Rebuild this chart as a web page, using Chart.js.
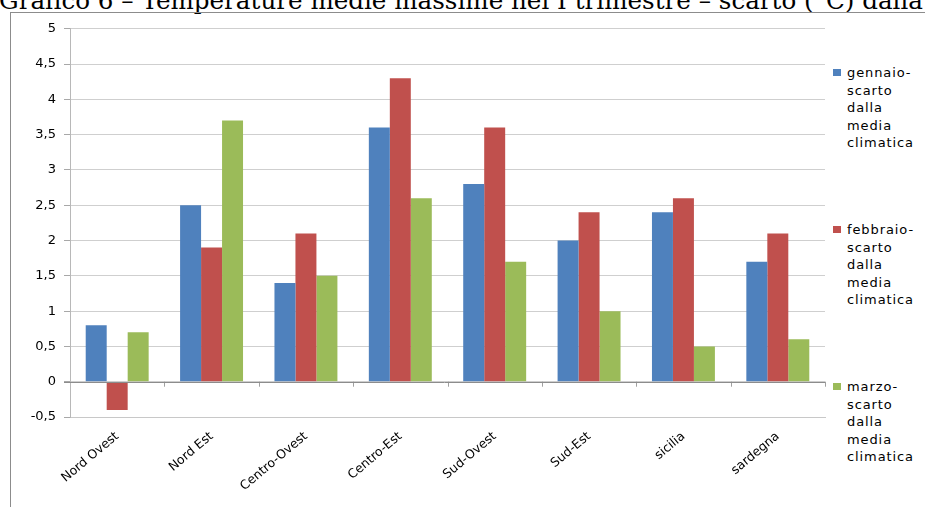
<!DOCTYPE html>
<html>
<head>
<meta charset="utf-8">
<script src="https://cdn.jsdelivr.net/npm/chart.js@4/dist/chart.umd.min.js"></script>
<style>
  body { margin: 0; background: #fff; width: 925px; height: 507px; overflow: hidden; position: relative; }
  #title { position: absolute; left: -1px; top: -11px; font-family: "DejaVu Serif", serif; font-size: 24.6px; line-height: 24px; white-space: nowrap; color: #000; }
  #frame { position: absolute; left: 10px; top: 12px; width: 925px; height: 510px; border-left: 1px solid #8c8c8c; border-top: 1px solid #8c8c8c; }
  #wrap { position: absolute; left: 11px; top: 13px; width: 820px; height: 494px; }
  #legend { position: absolute; left: 833px; top: 0; font-family: "DejaVu Sans", sans-serif; font-size: 13px; line-height: 17.5px; letter-spacing: 0.9px; color: #000; }
  .item { position: absolute; left: 0; width: 92px; }
  .sw { position: absolute; left: 0; top: 5px; width: 8px; height: 7px; }
  .txt { position: absolute; left: 14px; top: 0; white-space: pre; }
</style>
</head>
<body>
<div id="title">Grafico 6 – Temperature medie massime nel I trimestre – scarto (°C) dalla media climatica</div>
<div id="frame"></div>
<div id="wrap"><canvas id="myChart"></canvas></div>
<div id="legend"></div>
<script>
const categories = ['Nord Ovest', 'Nord Est', 'Centro-Ovest', 'Centro-Est', 'Sud-Ovest', 'Sud-Est', 'sicilia', 'sardegna']
const gennaio = [0.8, 2.5, 1.4, 3.6, 2.8, 2.0, 2.4, 1.7]
const febbraio = [-0.4, 1.9, 2.1, 4.3, 3.6, 2.4, 2.6, 2.1]
const marzo = [0.7, 3.7, 1.5, 2.6, 1.7, 1.0, 0.5, 0.6]
const seriesNames = ['gennaio-\nscarto\ndalla\nmedia\nclimatica', 'febbraio-\nscarto\ndalla\nmedia\nclimatica', 'marzo-\nscarto\ndalla\nmedia\nclimatica']
const colors = ['#4F81BD', '#C0504D', '#9BBB59']
const legendTops = [64, 221, 378]

// little tick marks under the zero line, between categories
const zeroTicks = {
    id: 'zeroTicks',
    afterDraw(chart) {
        const x = chart.scales.x, y = chart.scales.y
        const y0 = y.getPixelForValue(0)
        const ctx = chart.ctx
        ctx.save()
        ctx.strokeStyle = '#a0a0a0'
        ctx.lineWidth = 1
        for (var i = 1; i <= categories.length; i++) {
            var px = Math.round(x.getPixelForValue(i - 0.5)) + 0.5
            ctx.beginPath()
            ctx.moveTo(px, y0)
            ctx.lineTo(px, y0 + 5)
            ctx.stroke()
        }
        ctx.beginPath()
        ctx.strokeStyle = '#8c8c8c'
        ctx.moveTo(chart.chartArea.left - 6, Math.round(y0) + 0.5)
        ctx.lineTo(chart.chartArea.right, Math.round(y0) + 0.5)
        ctx.stroke()
        ctx.restore()
    }
}

const data = {
    labels: categories,
    datasets: [gennaio, febbraio, marzo].map((vals, i) => ({
        label: seriesNames[i],
        data: vals,
        backgroundColor: colors[i],
        borderWidth: 0,
        categoryPercentage: 0.667,
        barPercentage: 1.0
    }))
}

const config = {
    type: 'bar',
    data: data,
    options: {
        responsive: true,
        maintainAspectRatio: false,
        animation: false,
        layout: { padding: { top: 12, right: 6, left: 0, bottom: 0 } },
        plugins: { legend: { display: false }, tooltip: { enabled: false } },
        scales: {
            x: {
                grid: { display: false },
                border: { display: true, color: '#c8c8c8' },
                ticks: {
                    color: '#000',
                    font: { family: 'DejaVu Sans', size: 12.5 },
                    maxRotation: 40, minRotation: 40,
                    padding: 4
                },
                afterFit(scale) { scale.height = 90 }
            },
            y: {
                min: -0.5, max: 5,
                grid: { color: '#cfcfcf', tickLength: 6, tickColor: '#a8a8a8' },
                border: { display: true, color: '#b8b8b8' },
                ticks: {
                    stepSize: 0.5,
                    color: '#000',
                    font: { family: 'DejaVu Sans', size: 13 },
                    padding: 8,
                    callback: (v) => String(v).replace('.', ',')
                },
                afterFit(scale) { scale.width = 59 }
            }
        }
    },
    plugins: [zeroTicks]
}

const legend = document.getElementById('legend')
seriesNames.forEach((name, i) => {
    var item = document.createElement('div')
    item.className = 'item'
    item.style.top = legendTops[i] + 'px'
    item.innerHTML = '<div class="sw" style="background:' + colors[i] + '"></div><div class="txt"></div>'
    item.querySelector('.txt').textContent = name
    legend.appendChild(item)
})

var chart = new Chart(document.getElementById('myChart'), config)
</script>
</body>
</html>
